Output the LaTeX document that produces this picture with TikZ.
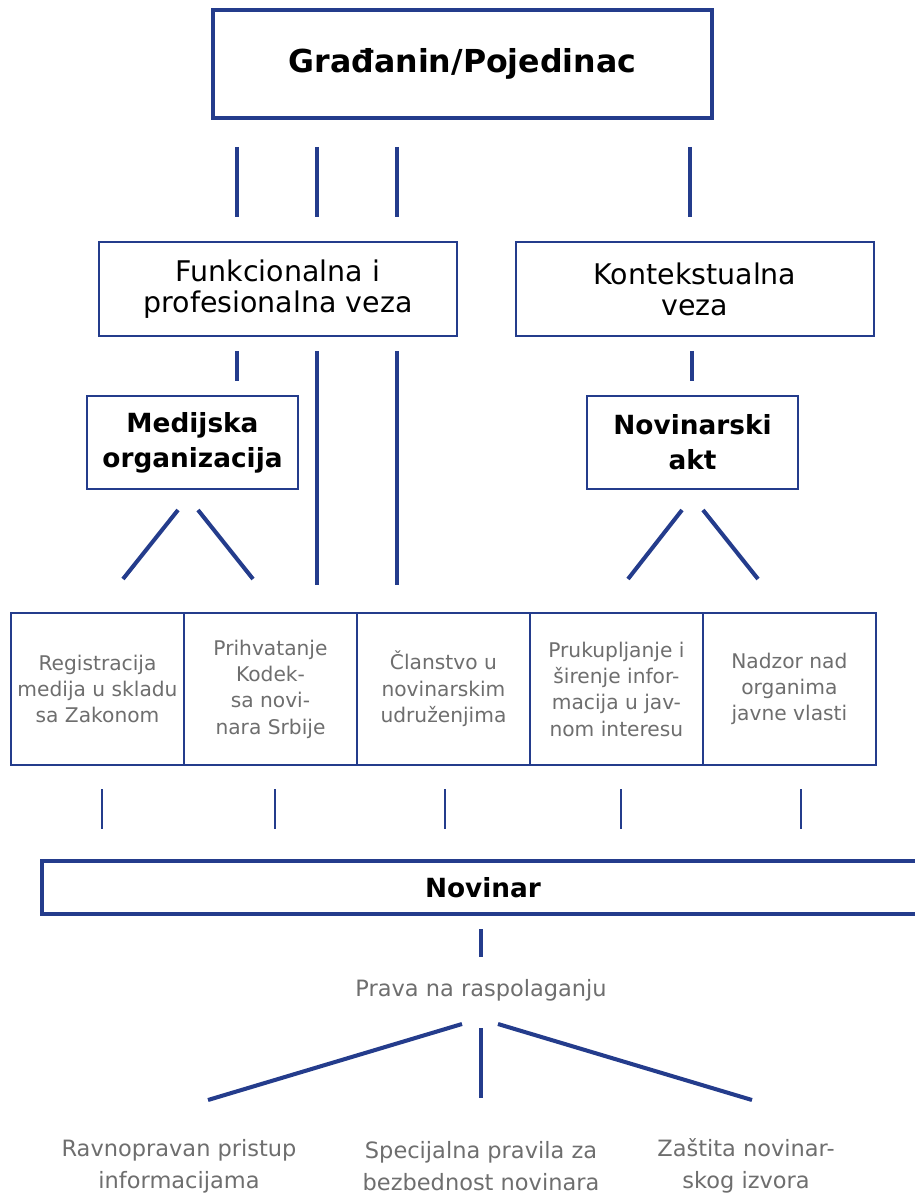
\documentclass[tikz,border=0pt]{standalone}
\usepackage{fontspec}
\setmainfont{DejaVu Sans}
\usetikzlibrary{positioning,calc}
\definecolor{navy}{RGB}{36,60,140}
\definecolor{txtgrey}{RGB}{110,110,110}

\begin{document}
\begin{tikzpicture}[x=0.02cm,y=-0.02cm,
    box/.style={draw=navy, line width=1.4pt, fill=white, align=center, inner sep=0pt, outer sep=0pt},
    heavy/.style={box, line width=2.3pt},
    cell/.style={box, minimum width=3.46cm, minimum height=3.04cm, text=txtgrey,
      font=\fontsize{11.5}{15}\selectfont},
    link/.style={draw=navy, line width=2.3pt},
    thin/.style={draw=navy, line width=1.4pt},
    note/.style={text=txtgrey, align=center, font=\fontsize{12.8}{18}\selectfont}]
  \useasboundingbox (0,0) rectangle (914,1195);

  % top
  \node[heavy, minimum width=9.98cm, minimum height=2.16cm,
    font=\fontsize{18}{20}\selectfont\bfseries] (gradjanin) at (462.5,64) {Građanin/Pojedinac};
  \foreach \x in {237,317,397,690}
    \draw[link] (\x,147) -- (\x,217);

  % links
  \node[box, minimum width=7.16cm, minimum height=1.88cm,
    font=\fontsize{16.2}{17.6}\selectfont] (funk) at (278,289) {Funkcionalna i\\profesionalna veza};
  \node[box, minimum width=7.16cm, minimum height=1.88cm,
    font=\fontsize{16.2}{17.6}\selectfont] (kont) at (695,289) {Kontekstualna\\veza};
  \draw[link] (237,351) -- (237,381);
  \draw[link] (692,351) -- (692,381);
  \draw[link] (317,351) -- (317,585);
  \draw[link] (397,351) -- (397,585);

  \node[box, minimum width=4.22cm, minimum height=1.86cm,
    font=\fontsize{15}{20}\selectfont\bfseries] (medij) at (192.5,442.5) {Medijska\\organizacija};
  \node[box, minimum width=4.22cm, minimum height=1.86cm,
    font=\fontsize{15}{20}\selectfont\bfseries] (akt) at (692.5,442.5) {Novinarski\\akt};
  \draw[link] (178,510) -- (123,579);
  \draw[link] (198,510) -- (253,579);
  \draw[link] (682,510) -- (628,579);
  \draw[link] (703,510) -- (758,579);

  % row of duties
  \node[cell] (reg) at (97.5,689) {Registracija\\medija u skladu\\sa Zakonom};
  \node[cell, right=0pt of reg] (kodeks) {Prihvatanje\\Kodek-\\sa novi-\\nara Srbije};
  \node[cell, right=0pt of kodeks] (clan) {Članstvo u\\novinarskim\\udruženjima};
  \node[cell, right=0pt of clan] (prik) {Prukupljanje i\\širenje infor-\\macija u jav-\\nom interesu};
  \node[cell, right=0pt of prik] (nadz) {Nadzor nad\\organima\\javne vlasti};
  \foreach \x in {102,275,445,621,801}
    \draw[thin] (\x,789) -- (\x,829);

  % journalist
  \node[heavy, minimum width=17.64cm, minimum height=1.06cm,
    font=\fontsize{15}{18}\selectfont\bfseries] (novinar) at (483,887.5) {Novinar};
  \draw[link] (481,929) -- (481,957);
  \node[note] (prava) at (481,990) {Prava na raspolaganju};
  \draw[link] (462,1024) -- (208,1100);
  \draw[link] (481,1028) -- (481,1098);
  \draw[link] (498,1024) -- (752,1100);

  \node[note] (pristup) at (179,1166) {Ravnopravan pristup\\informacijama};
  \node[note] (pravila) at (481,1166) {Specijalna pravila za\\bezbednost novinara};
  \node[note] (izvor) at (746,1166) {Zaštita novinar-\\skog izvora};
\end{tikzpicture}
\end{document}
